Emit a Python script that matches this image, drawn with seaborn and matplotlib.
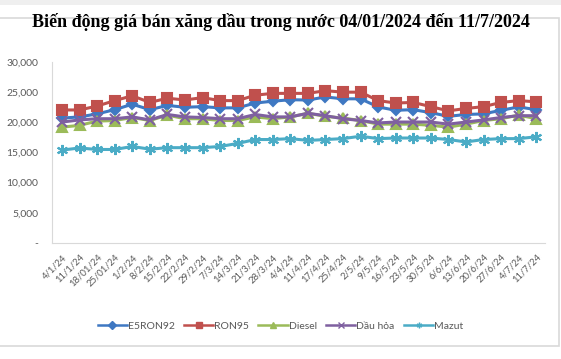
import pandas as pd
import matplotlib.pyplot as plt
import matplotlib.ticker as mticker
from matplotlib.patches import Rectangle
import seaborn as sns

dates = ['4/1/24', '11/1/24', '18/01/24', '25/01/24', '1/2/24', '8/2/24', '15/2/24',
         '22/2/24', '29/2/24', '7/3/24', '14/3/24', '21/3/24', '28/3/24', '4/4/24',
         '11/4/24', '17/4/24', '25/4/24', '2/5/24', '9/5/24', '16/5/24', '23/5/24',
         '30/5/24', '6/6/24', '13/6/24', '20/6/24', '27/6/24', '4/7/24', '11/7/24']

e5ron92 = [20700, 20900, 21400, 22100, 23000, 22100, 22800, 22500, 22600, 22400, 22400, 23200, 23500,
           23750, 23700, 24200, 23900, 23900, 22550, 22000, 22100, 21600, 21000, 21300, 21400, 22000,
           22550, 22100]
ron95 = [22050, 22050, 22700, 23600, 24400, 23300, 24000, 23700, 24100, 23600, 23600, 24500, 24800,
         24800, 24800, 25250, 25000, 25000, 23600, 23200, 23300, 22600, 21900, 22300, 22600, 23300,
         23600, 23400]
diesel = [19200, 19500, 20200, 20300, 20800, 20300, 21200, 20600, 20600, 20300, 20300, 20900, 20600,
          20900, 21500, 21000, 20700, 20300, 19700, 19700, 19700, 19500, 19200, 19700, 20300, 20600,
          21200, 20600]
dau_hoa = [20050, 20400, 20600, 20600, 20900, 20400, 21300, 20900, 20800, 20600, 20600, 21300, 20900,
           20900, 21500, 21100, 20600, 20300, 19900, 20050, 20050, 20050, 19700, 20050, 20400, 20800,
           21100, 21100]
mazut = [15400, 15750, 15500, 15500, 16000, 15550, 15800, 15800, 15800, 16000, 16500, 17150, 17150,
         17300, 17000, 17150, 17300, 17700, 17300, 17400, 17400, 17400, 17150, 16750, 17150, 17300,
         17300, 17600]

series = {'E5RON92': e5ron92, 'RON95': ron95, 'Diesel': diesel, 'Dầu hỏa': dau_hoa, 'Mazut': mazut}
colors = {'E5RON92': '#3F78C2', 'RON95': '#C0504D', 'Diesel': '#9BBB59',
          'Dầu hỏa': '#7F60A0', 'Mazut': '#4BACC6'}
markers = {'E5RON92': 'D', 'RON95': 's', 'Diesel': '^', 'Dầu hỏa': 'x', 'Mazut': (6, 2, 0)}
msizes = {'E5RON92': 5, 'RON95': 6.5, 'Diesel': 6.5, 'Dầu hỏa': 6.5, 'Mazut': 8}

plt.rcParams['font.family'] = ['Lato', 'DejaVu Sans']

fig = plt.figure(figsize=(5.61, 3.59), dpi=100)
fig.patches.append(Rectangle((0, 1 - 5 / 359), 1, 5 / 359, transform=fig.transFigure,
                             facecolor='#EFEFEF', edgecolor='none'))
fig.patches.append(Rectangle((-0.01, 13 / 359), 559 / 561 + 0.01, 341 / 359 - 13 / 359,
                             transform=fig.transFigure, facecolor='none',
                             edgecolor='#D9D9D9', linewidth=1.2))

ax = fig.add_axes([52 / 561, 1 - 243 / 359, (545 - 52) / 561, (243 - 62) / 359])
for name, vals in series.items():
    sub = pd.DataFrame({'idx': range(len(vals)), 'price': vals})
    sns.lineplot(data=sub, x='idx', y='price', color=colors[name], marker=markers[name],
                 markersize=msizes[name], markeredgewidth=1.5, markeredgecolor=colors[name],
                 linewidth=2.2, sort=False, ax=ax)

ax.set_xlim(-0.57, 27.5)
ax.set_ylim(0, 30000)
ax.set_yticks(range(0, 30001, 5000))
ax.yaxis.set_major_formatter(mticker.FuncFormatter(lambda v, p: '-' if v == 0 else f'{int(v):,}'))
ax.set_xticks(range(len(dates)))
ax.set_xticklabels(dates, rotation=45, ha='right', rotation_mode='anchor')
ax.tick_params(axis='both', length=0, colors='#595959')
ax.tick_params(axis='y', labelsize=7.5, pad=10)
ax.tick_params(axis='x', labelsize=6.8, pad=7)
ax.set_xlabel('')
ax.set_ylabel('')
for s in ['top', 'right']:
    ax.spines[s].set_visible(False)
ax.spines['left'].set_color('#D9D9D9')
ax.spines['bottom'].set_color('#D9D9D9')

handles = [plt.Line2D([], [], color=colors[n], marker=markers[n], markersize=4,
                      markeredgecolor=colors[n], linewidth=1.8, label=n) for n in series]
fig.legend(handles=handles, loc='center', bbox_to_anchor=(0.5, 1 - 326 / 359), ncol=5,
           frameon=False, fontsize=7.5, handlelength=2.8, columnspacing=0.9,
           handletextpad=0.1, labelcolor='#595959')

fig.text(0.5, 1 - 22 / 359, 'Biến động giá bán xăng dầu trong nước 04/01/2024 đến 11/7/2024',
         ha='center', va='center', fontsize=13, fontweight='bold',
         family=['Liberation Serif', 'DejaVu Serif'])

fig.savefig('out.png', dpi=100)
